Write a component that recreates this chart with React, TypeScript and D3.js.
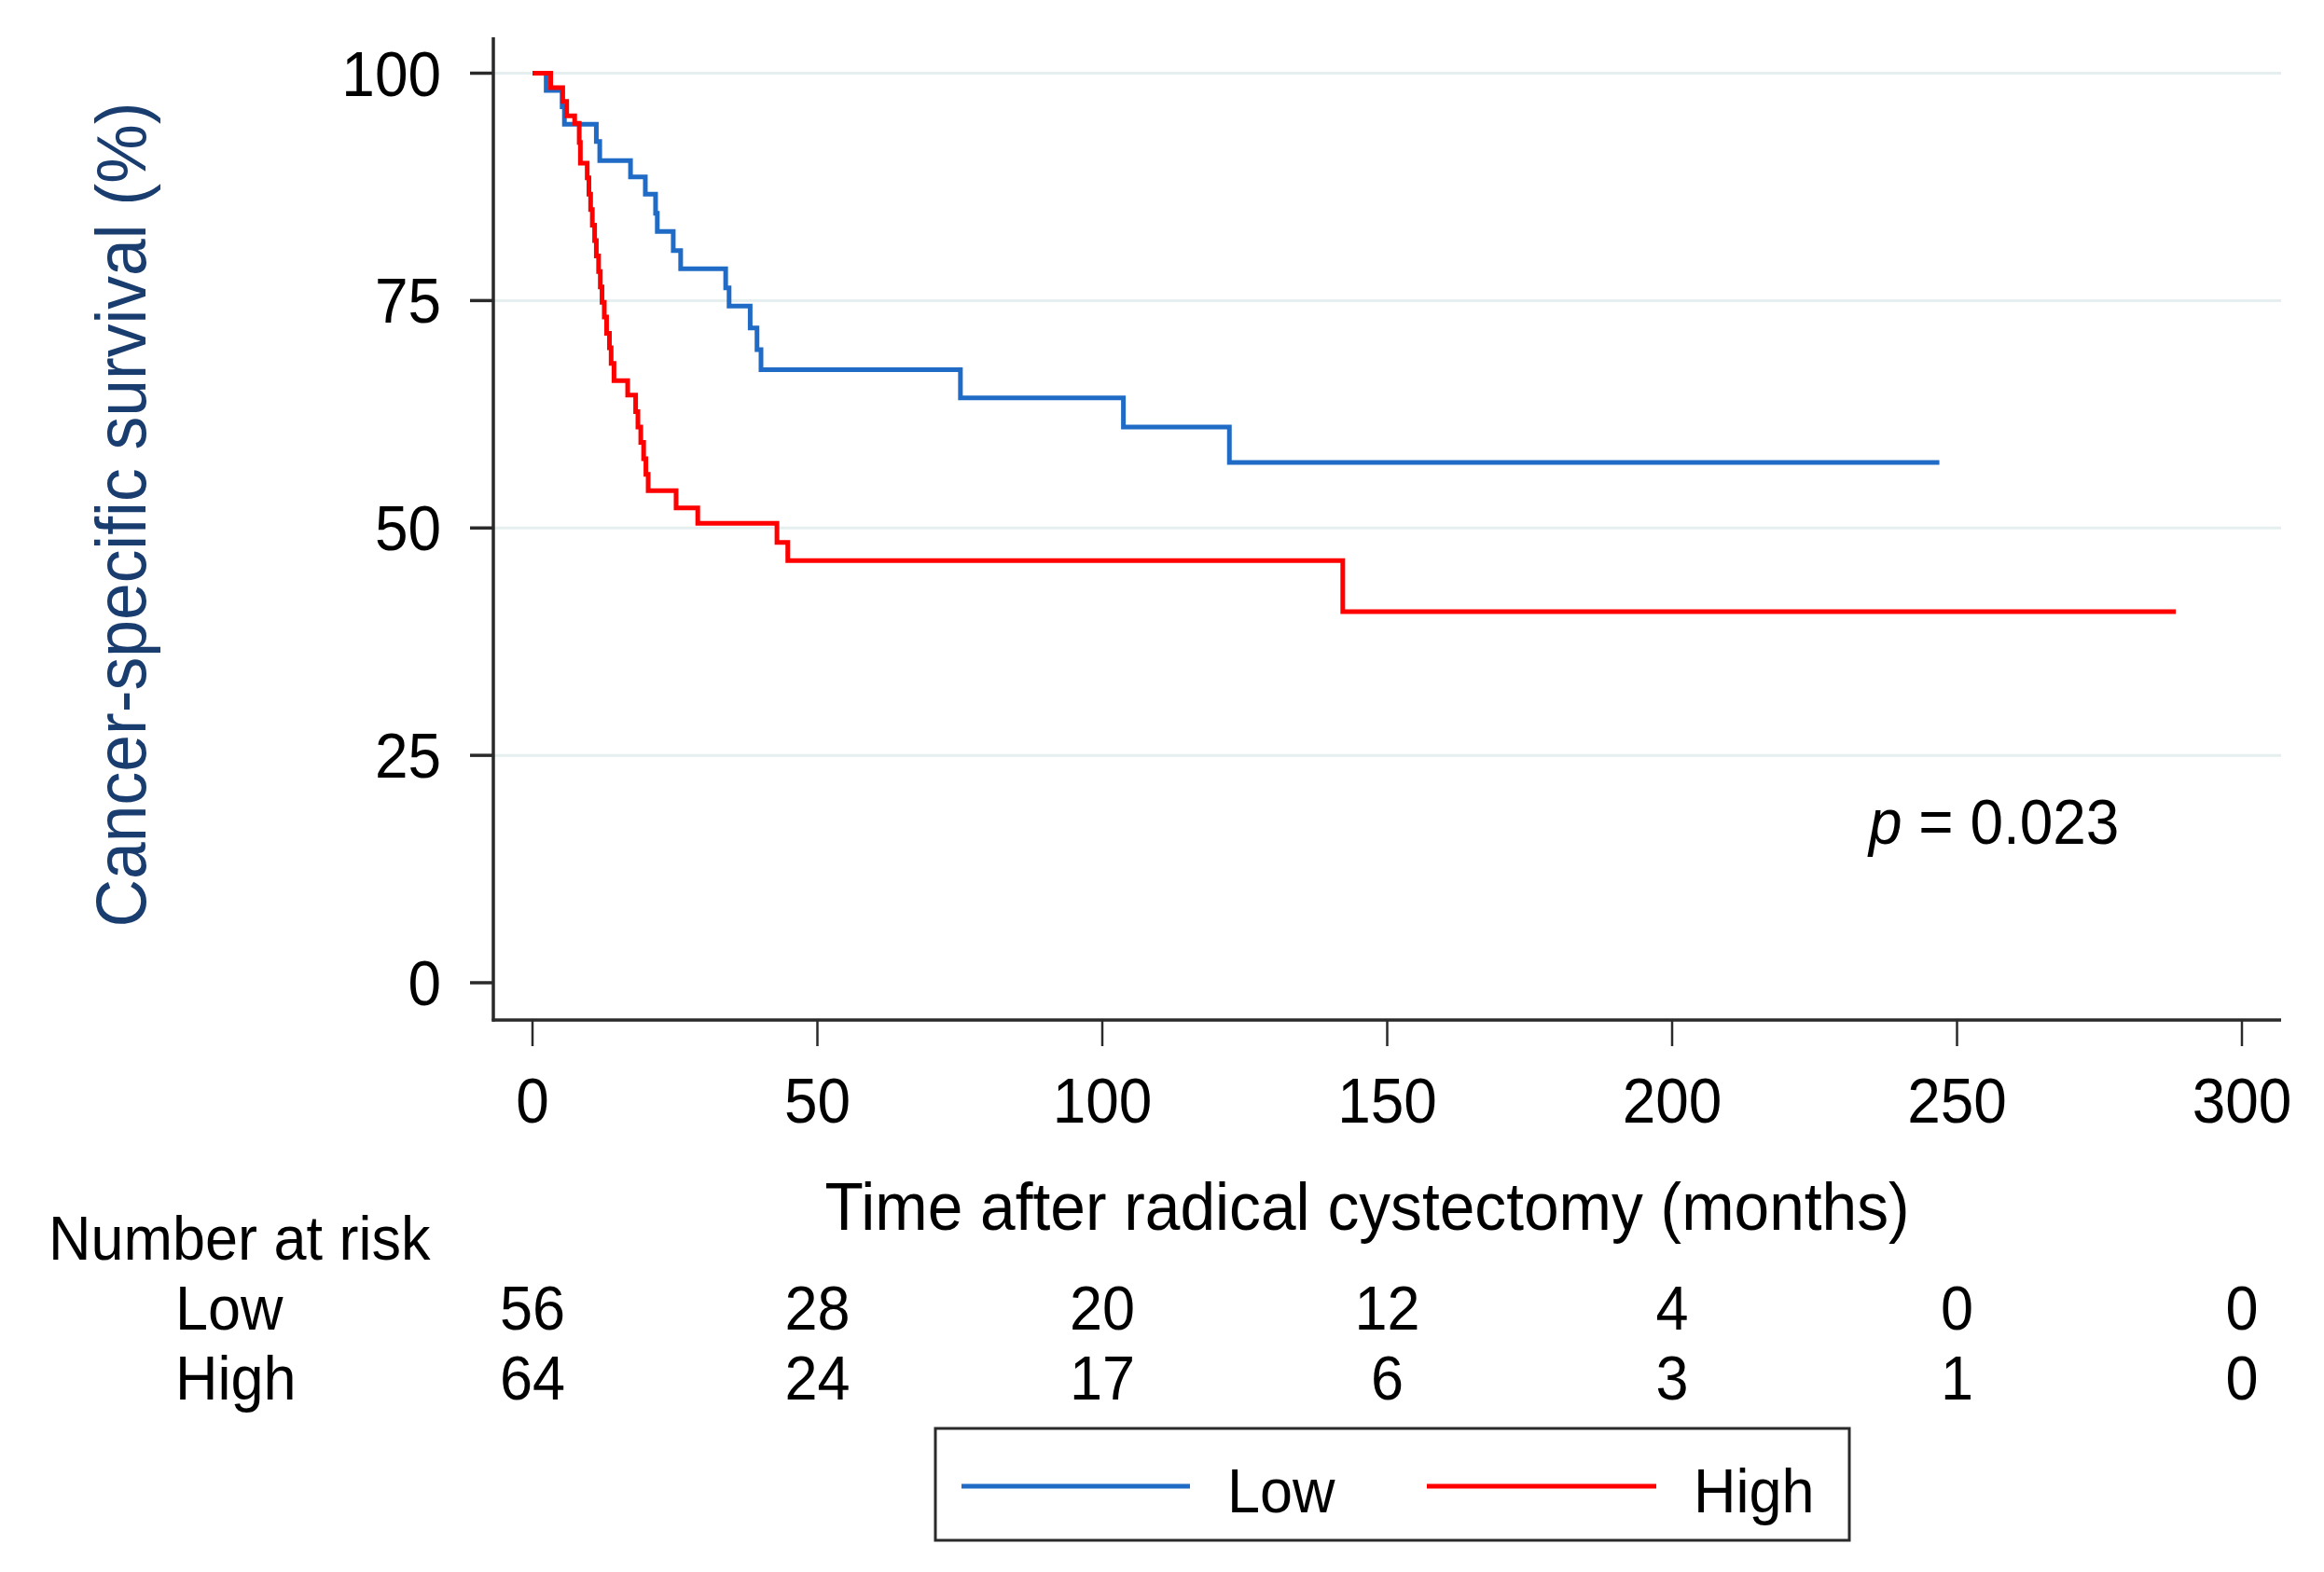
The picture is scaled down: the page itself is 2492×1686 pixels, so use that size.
import React from "react";
import * as d3 from "d3";

// ---- data ----
const lowTimes = [0, 2.4, 5.2, 5.6, 11.2, 11.8, 17.2, 19.8, 21.6, 21.9, 24.7, 26.0, 33.9, 34.5, 38.2, 39.4, 40.1, 75.1, 103.7, 122.3, 246.9];
const lowSurv = [100, 98.1, 96.3, 94.4, 92.5, 90.4, 88.6, 86.7, 84.6, 82.6, 80.5, 78.5, 76.4, 74.4, 72.0, 69.6, 67.4, 64.3, 61.1, 57.2, 57.2];

const highTimes = [0, 3.2, 5.3, 6.0, 7.4, 8.2, 8.4, 9.6, 9.9, 10.2, 10.5, 10.9, 11.2, 11.6, 11.9, 12.2, 12.6, 13.0, 13.5, 13.8, 14.3, 16.7, 18.1, 18.5, 19.0, 19.5, 19.9, 20.3, 25.2, 29.0, 42.9, 44.8, 142.2, 288.4];
const highSurv = [100, 98.4, 96.9, 95.3, 94.5, 92.4, 90.1, 88.5, 86.7, 85.0, 83.3, 81.6, 79.9, 78.2, 76.5, 74.8, 73.2, 71.4, 69.8, 68.1, 66.2, 64.6, 62.8, 61.1, 59.4, 57.6, 55.9, 54.1, 52.2, 50.5, 48.4, 46.4, 40.8, 40.8];

const xTicks = [0, 50, 100, 150, 200, 250, 300];
const yTicks = [0, 25, 50, 75, 100];
const riskLow = [56, 28, 20, 12, 4, 0, 0];
const riskHigh = [64, 24, 17, 6, 3, 1, 0];
const groups = ["Low", "High"];

const BLUE = "#1f6bc6";
const RED = "#ff0000";
const AXIS = "#2a2a2a";
const GRID = "#e6efef";
const NAVY = "#1a3d6f";
const FONT = "'Liberation Sans', Arial, Helvetica, sans-serif";
const SX = 0.94;

type TProps = {
  x: number;
  y: number;
  size: number;
  anchor?: "start" | "middle" | "end";
  fill?: string;
  rotate?: number;
  children: React.ReactNode;
};

function T({ x, y, size, anchor = "start", fill = "#000", rotate = 0, children }: TProps) {
  return (
    <text
      transform={`translate(${x},${y}) rotate(${rotate}) scale(${SX},1)`}
      textAnchor={anchor}
      fontSize={size}
      fontFamily={FONT}
      fill={fill}
    >
      {children}
    </text>
  );
}

export default function App() {
  const W = 2492;
  const H = 1686;
  const axisX = 529;
  const axisY = 1094;
  const plotTop = 40;
  const plotRight = 2446;

  const x = d3.scaleLinear().domain([0, 300]).range([571, 2404]);
  const y = d3.scaleLinear().domain([0, 100]).range([1054, 78.5]);

  const line = d3
    .line<[number, number]>()
    .x((d) => x(d[0]))
    .y((d) => y(d[1]))
    .curve(d3.curveStepAfter);

  const lowPts: [number, number][] = lowTimes.map((t, i) => [t, lowSurv[i]]);
  const highPts: [number, number][] = highTimes.map((t, i) => [t, highSurv[i]]);

  const tickFont = 67;

  return (
    <svg
      width={W}
      height={H}
      viewBox={`0 0 ${W} ${H}`}
      style={{ position: "absolute", left: 0, top: 0, background: "#fff" }}
    >
      <rect x={0} y={0} width={W} height={H} fill="#fff" />

      {/* gridlines */}
      {yTicks.slice(1).map((v) => (
        <line key={`g${v}`} x1={axisX} x2={plotRight} y1={y(v)} y2={y(v)} stroke={GRID} strokeWidth={3} />
      ))}

      {/* curves */}
      <path d={line(lowPts) || ""} fill="none" stroke={BLUE} strokeWidth={5} strokeLinejoin="miter" />
      <path d={line(highPts) || ""} fill="none" stroke={RED} strokeWidth={5} strokeLinejoin="miter" />

      {/* y axis */}
      <line x1={axisX} x2={axisX} y1={plotTop} y2={axisY + 1.5} stroke={AXIS} strokeWidth={3.5} />
      {yTicks.map((v) => (
        <g key={`yt${v}`}>
          <line x1={axisX - 25} x2={axisX} y1={y(v)} y2={y(v)} stroke={AXIS} strokeWidth={3.5} />
          <T x={473} y={y(v) + 24} size={68} anchor="end">
            {v}
          </T>
        </g>
      ))}

      {/* x axis */}
      <line x1={axisX - 1.5} x2={plotRight} y1={axisY} y2={axisY} stroke={AXIS} strokeWidth={3.5} />
      {xTicks.map((v) => (
        <g key={`xt${v}`}>
          <line x1={x(v)} x2={x(v)} y1={axisY} y2={axisY + 28} stroke={AXIS} strokeWidth={2.5} />
          <T x={x(v)} y={1204} size={68} anchor="middle">
            {v}
          </T>
        </g>
      ))}

      {/* axis titles */}
      <T x={1466} y={1319} size={72} anchor="middle">
        Time after radical cystectomy (months)
      </T>
      <T x={156} y={552} size={76} anchor="middle" rotate={-90} fill={NAVY}>
        Cancer-specific survival (%)
      </T>

      {/* p value */}
      <text
        transform={`translate(2004,905) scale(${SX},1)`}
        fontSize={68}
        fontFamily={FONT}
        fill="#000"
      >
        <tspan fontStyle="italic">p</tspan>
        <tspan> = 0.023</tspan>
      </text>

      {/* number at risk */}
      <T x={52} y={1351} size={tickFont}>
        Number at risk
      </T>
      <T x={188} y={1426} size={tickFont}>
        {groups[0]}
      </T>
      <T x={188} y={1501} size={tickFont}>
        {groups[1]}
      </T>
      {xTicks.map((v, i) => (
        <g key={`r${v}`}>
          <T x={x(v)} y={1426} size={tickFont} anchor="middle">
            {riskLow[i]}
          </T>
          <T x={x(v)} y={1501} size={tickFont} anchor="middle">
            {riskHigh[i]}
          </T>
        </g>
      ))}

      {/* legend */}
      <rect x={1003} y={1532} width={980} height={120} fill="#fff" stroke={AXIS} strokeWidth={3} />
      <line x1={1031} x2={1276} y1={1594} y2={1594} stroke={BLUE} strokeWidth={5} />
      <T x={1316} y={1622} size={tickFont}>
        {groups[0]}
      </T>
      <line x1={1530} x2={1776} y1={1594} y2={1594} stroke={RED} strokeWidth={5} />
      <T x={1816} y={1622} size={tickFont}>
        {groups[1]}
      </T>
    </svg>
  );
}
